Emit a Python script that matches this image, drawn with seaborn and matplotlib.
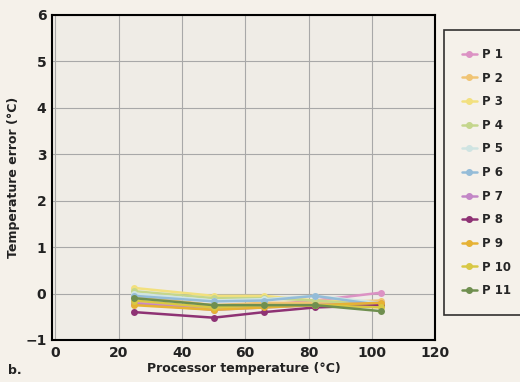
import matplotlib
matplotlib.use("Agg")
import matplotlib.pyplot as plt
import numpy as np
import pandas as pd
import seaborn as sns

# processor temperature readings (deg C) and error for each probe
temps = [25, 50, 66, 82, 103]
p1 = [-0.20, -0.30, -0.25, -0.15, 0.02]
p2 = [-0.05, -0.25, -0.20, -0.20, -0.15]
p3 = [0.12, -0.05, -0.05, -0.15, -0.20]
p4 = [0.05, -0.10, -0.10, -0.15, -0.25]
p5 = [0.00, -0.15, -0.12, -0.05, -0.20]
p6 = [-0.05, -0.17, -0.15, -0.05, -0.25]
p7 = [-0.22, -0.35, -0.30, -0.25, -0.20]
p8 = [-0.40, -0.52, -0.40, -0.30, -0.25]
p9 = [-0.25, -0.35, -0.30, -0.25, -0.20]
p10 = [-0.15, -0.30, -0.25, -0.25, -0.30]
p11 = [-0.10, -0.25, -0.25, -0.25, -0.38]

names = ["P 1", "P 2", "P 3", "P 4", "P 5", "P 6", "P 7", "P 8", "P 9", "P 10", "P 11"]
series = [p1, p2, p3, p4, p5, p6, p7, p8, p9, p10, p11]
colors = ["#dc92c4", "#f0c474", "#f2e07e", "#c4d68c", "#cfe4e2", "#94bcd8",
          "#c286c6", "#8e3274", "#e6b234", "#d8c844", "#6f8f4f"]

rows = []
for name, vals in zip(names, series):
    for t, v in zip(temps, vals):
        rows.append({"probe": name, "temp": t, "err": v})
df = pd.DataFrame(rows)

sns.set_style("white")
plt.rcParams["font.family"] = ["DejaVu Sans"]

fig = plt.figure(figsize=(5.2, 3.82), dpi=100, facecolor="#f5f1ea")
ax = fig.add_axes([0.1, 0.11, 0.737, 0.851])
ax.set_facecolor("#efece6")

sns.lineplot(data=df, x="temp", y="err", hue="probe", palette=colors,
             marker="o", markersize=5, markeredgewidth=0, linewidth=1.8,
             ax=ax, legend=False)

ax.set_xlim(-1, 119)
ax.set_ylim(-1, 6)
ax.set_xticks([0, 20, 40, 60, 80, 100, 120])
ax.set_yticks([-1, 0, 1, 2, 3, 4, 5, 6])
ax.grid(True, color="#a8a8a8", linewidth=0.8)
for s in ax.spines.values():
    s.set_color("black")
    s.set_linewidth(1.5)
ax.tick_params(labelsize=10, length=0, pad=4)
for lab in ax.get_xticklabels() + ax.get_yticklabels():
    lab.set_fontweight("bold")
    lab.set_color("#222222")
ax.set_xlabel("Processor temperature (°C)", fontsize=9, fontweight="bold", color="#222222", labelpad=2)
ax.set_ylabel("Temperature error (°C)", fontsize=9, fontweight="bold", color="#222222", labelpad=4)

handles = [plt.Line2D([], [], color=c, marker="o", markersize=4, linewidth=1.8) for c in colors]
leg = fig.legend(handles, names, loc="upper left", bbox_to_anchor=(0.854, 0.921),
                 borderaxespad=0, frameon=True, fontsize=8.5, handlelength=1.3,
                 handletextpad=0.4, labelspacing=0.9, borderpad=1.5, fancybox=False)
leg.get_frame().set_edgecolor("black")
leg.get_frame().set_linewidth(1.2)
leg.get_frame().set_facecolor("#f5f1ea")
for t in leg.get_texts():
    t.set_fontweight("bold")

fig.text(0.015, 0.02, "b.", fontsize=9, fontweight="bold", color="#222222")

fig.savefig("out.png", dpi=100, facecolor=fig.get_facecolor())
